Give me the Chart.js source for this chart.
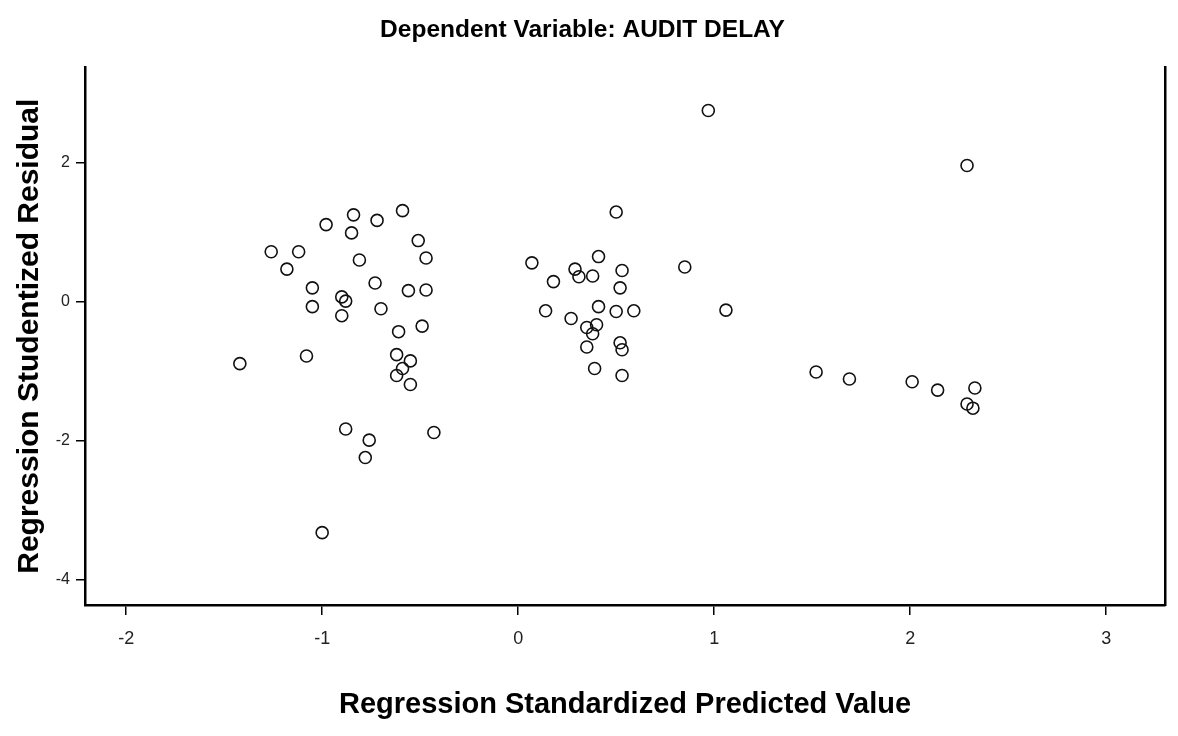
<!DOCTYPE html>
<html>
<head>
<meta charset="utf-8">
<title>Dependent Variable: AUDIT DELAY</title>
<script src="https://cdn.jsdelivr.net/npm/chart.js@4.4.1/dist/chart.umd.min.js"></script>
<style>
  html, body { margin: 0; padding: 0; background: #fff; }
  #wrap { width: 1178px; height: 736px; }
</style>
</head>
<body>
<div id="wrap"><canvas id="residChart"></canvas></div>
<script>
// standardized predicted value (x) and studentized residual (y)
const predicted = [
  -0.98, -0.84, -0.85, -0.72, -0.59, -1.26, -1.12, -1.18, -0.81, -0.51,
  -0.47, -0.73, -1.05, -1.05, -0.90, -0.88, -0.90, -0.70, -0.56, -0.47,
  -0.61, -0.49, -1.42, -1.08, -0.62, -0.55, -0.62, -0.55, -0.59, -0.88,
  -0.76, -0.78, -0.43, -1.00,
  0.50, 0.07, 0.41, 0.29, 0.38, 0.31, 0.53, 0.52, 0.18, 0.14,
  0.41, 0.50, 0.59, 0.27, 0.35, 0.40, 0.35, 0.52, 0.53, 0.39,
  0.53, 0.85, 1.06, 0.97, 0.38,
  2.29, 1.52, 1.69, 2.01, 2.14, 2.33, 2.29, 2.32
];
const residual = [
  1.11, 1.25, 0.99, 1.17, 1.31, 0.72, 0.72, 0.47, 0.60, 0.88,
  0.63, 0.27, 0.20, -0.07, 0.07, 0.01, -0.20, -0.10, 0.16, 0.17,
  -0.43, -0.35, -0.89, -0.78, -0.76, -0.85, -1.06, -1.19, -0.96, -1.83,
  -1.99, -2.24, -1.88, -3.32,
  1.29, 0.56, 0.65, 0.47, 0.37, 0.36, 0.45, 0.20, 0.29, -0.13,
  -0.07, -0.14, -0.13, -0.24, -0.37, -0.33, -0.65, -0.59, -0.69, -0.96,
  -1.06, 0.50, -0.12, 2.75, -0.46,
  1.96, -1.01, -1.11, -1.15, -1.27, -1.24, -1.47, -1.53
];
const xTicks = [-2, -1, 0, 1, 2, 3];
const yTicks = [-4, -2, 0, 2];

const points = predicted.map((x, i) => ({ x: x, y: residual[i] }));

const fontFamily = '"Liberation Sans", Arial, sans-serif';

const ctx = document.getElementById('residChart').getContext('2d');
new Chart(ctx, {
  type: 'scatter',
  data: {
    datasets: [{
      data: points,
      pointStyle: 'circle',
      pointRadius: 6,
      pointBorderWidth: 1.6,
      borderColor: '#111',
      backgroundColor: 'rgba(0,0,0,0)'
    }]
  },
  options: {
    responsive: true,
    maintainAspectRatio: false,
    animation: false,
    layout: { padding: { left: 0, right: 13, top: 0, bottom: 0 } },
    plugins: {
      legend: { display: false },
      tooltip: { enabled: false },
      title: {
        display: true,
        text: 'Dependent Variable: AUDIT DELAY',
        color: '#000',
        font: { family: fontFamily, size: 24.5, weight: 'bold' },
        padding: { top: 16, bottom: 22 }
      }
    },
    scales: {
      x: {
        type: 'linear',
        min: -2.21,
        max: 3.30,
        afterBuildTicks: (scale) => { scale.ticks = xTicks.map(v => ({ value: v })); },
        afterFit: (scale) => { scale.height = 131; },
        border: { display: true, color: '#000', width: 2.5 },
        grid: { display: true, drawOnChartArea: false, drawTicks: true, tickLength: 10, color: '#000', lineWidth: 1.5 },
        ticks: { color: '#222', padding: 13, font: { family: fontFamily, size: 18 } },
        title: {
          display: true,
          text: 'Regression Standardized Predicted Value',
          color: '#000',
          font: { family: fontFamily, size: 29, weight: 'bold' },
          padding: { top: 0, bottom: 14 }
        }
      },
      y: {
        type: 'linear',
        min: -4.36,
        max: 3.37,
        afterBuildTicks: (scale) => { scale.ticks = yTicks.map(v => ({ value: v })); },
        afterFit: (scale) => { scale.width = 85; },
        border: { display: true, color: '#000', width: 2.5 },
        grid: { display: true, drawOnChartArea: false, drawTicks: true, tickLength: 9, color: '#000', lineWidth: 1.5 },
        ticks: { color: '#222', padding: 6, font: { family: fontFamily, size: 16 } },
        title: {
          display: true,
          text: 'Regression Studentized Residual',
          color: '#000',
          font: { family: fontFamily, size: 30, weight: 'bold' },
          padding: { top: 12, bottom: 0 }
        }
      },
      yRight: {
        type: 'linear',
        position: 'right',
        min: -4.36,
        max: 3.37,
        afterFit: (scale) => { scale.width = 0; },
        border: { display: true, color: '#000', width: 2.5 },
        grid: { display: false },
        ticks: { display: false }
      }
    }
  }
});
</script>
</body>
</html>
